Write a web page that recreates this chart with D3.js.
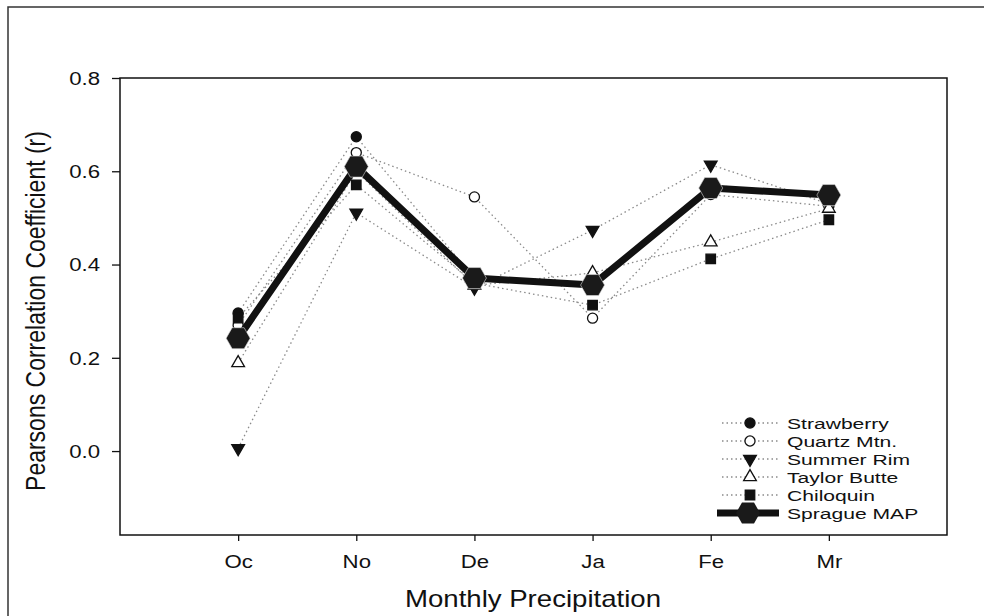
<!DOCTYPE html>
<html><head><meta charset="utf-8">
<script src="https://cdn.jsdelivr.net/npm/d3@7"></script>
<style>
html,body{margin:0;padding:0;background:#fff;}
text{font-family:"Liberation Sans",Arial,sans-serif;fill:#111;}
</style></head>
<body>
<svg id="chart" width="984" height="616"></svg>
<script>
const months = ["Oc","No","De","Ja","Fe","Mr"];
const yTicks = [0.0,0.2,0.4,0.6,0.8];
const strawberry  = [0.296,0.674,0.370,0.360,0.570,0.550];
const quartzMtn   = [0.270,0.640,0.545,0.285,0.550,0.525];
const summerRim   = [0.006,0.511,0.350,0.474,0.614,0.530];
const taylorButte = [0.189,0.600,0.355,0.382,0.448,0.520];
const chiloquin   = [0.285,0.571,0.360,0.313,0.412,0.496];
const spragueMAP  = [0.242,0.610,0.371,0.356,0.564,0.549];
const seriesNames = ["Strawberry","Quartz Mtn.","Summer Rim","Taylor Butte","Chiloquin","Sprague MAP"];

const svg = d3.select("#chart");
const L=120, T=78, R=947, B=535;
const x = d3.scaleLinear().domain([0,7]).range([L,R]);
const y = d3.scaleLinear().domain([-0.18,0.8]).range([B,T]);
const SX = 1.2;

// outer frame
svg.append("rect").attr("x",8).attr("y",7).attr("width",1100).attr("height",800)
  .attr("fill","none").attr("stroke","#333").attr("stroke-width",1.5);

// axes
const ya = svg.append("g").attr("transform",`translate(${L},0)`)
  .call(d3.axisLeft(y).tickValues(yTicks).tickFormat(d3.format(".1f")).tickSize(8));
ya.select(".domain").remove();
ya.selectAll("line").attr("stroke","#111").attr("stroke-width",1.3);
ya.selectAll("text").attr("x",0).attr("dy","0.34em").attr("font-size",18.5)
  .attr("transform",`translate(-20,0) scale(${SX},1)`).attr("fill","#111");

const xa = svg.append("g").attr("transform",`translate(0,${B})`)
  .call(d3.axisBottom(x).tickValues(d3.range(1,7)).tickFormat(d=>months[d-1]).tickSize(6));
xa.select(".domain").remove();
xa.selectAll("line").attr("stroke","#111").attr("stroke-width",1.3);
xa.selectAll("text").attr("y",33).attr("dy",0).attr("font-size",18.5)
  .attr("transform",`scale(${SX},1)`).attr("fill","#111");

// plot frame
svg.append("rect").attr("x",L).attr("y",T).attr("width",R-L).attr("height",B-T)
  .attr("fill","none").attr("stroke","#111").attr("stroke-width",1.5);

// titles
svg.append("text").attr("transform",`translate(533,607) scale(${SX},1)`)
  .attr("text-anchor","middle").attr("font-size",23).text("Monthly Precipitation");
svg.append("text").attr("transform",`translate(45,311) scale(${SX},1) rotate(-90)`)
  .attr("text-anchor","middle").attr("font-size",23).text("Pearsons Correlation Coefficient (r)");

// symbols
const sym = {
  circle: d3.symbol().type(d3.symbolCircle).size(80)(),
  tri: d3.symbol().type(d3.symbolTriangle).size(70)(),
  square: d3.symbol().type(d3.symbolSquare).size(90)()
};
function hexPath(w,h){
  const a=w/2, b=h/2, c=w/4;
  return `M${-a},0L${-c},${-b}L${c},${-b}L${a},0L${c},${b}L${-c},${b}Z`;
}
const styles = [
  {data:strawberry,  d:sym.circle, fill:"#111", stroke:"#111", rot:0},
  {data:quartzMtn,   d:sym.circle, fill:"#fff", stroke:"#111", rot:0},
  {data:summerRim,   d:sym.tri,    fill:"#111", stroke:"#111", rot:180},
  {data:taylorButte, d:sym.tri,    fill:"#fff", stroke:"#111", rot:0},
  {data:chiloquin,   d:sym.square, fill:"#111", stroke:"#111", rot:0}
];
const line = d3.line().x((d,i)=>x(i+1)).y(d=>y(d));

const g = svg.append("g");
styles.forEach(s=>{
  g.append("path").attr("d",line(s.data)).attr("fill","none")
    .attr("stroke","#8a8a8a").attr("stroke-width",1.3).attr("stroke-dasharray","1.5,3");
});
styles.forEach(s=>{
  g.selectAll(null).data(s.data).enter().append("path")
    .attr("d",s.d).attr("fill",s.fill).attr("stroke",s.stroke).attr("stroke-width",1.3)
    .attr("transform",(d,i)=>`translate(${x(i+1)},${y(d)}) rotate(${s.rot})`);
});
g.append("path").attr("d",line(spragueMAP)).attr("fill","none")
  .attr("stroke","#111").attr("stroke-width",7).attr("stroke-linejoin","round");
g.selectAll(null).data(spragueMAP).enter().append("path")
  .attr("d",hexPath(24,21)).attr("fill","#1a1a1a").attr("stroke","#ddd").attr("stroke-width",0.6)
  .attr("transform",(d,i)=>`translate(${x(i+1)},${y(d)})`);

// legend
const lg = svg.append("g");
const ly0=423, lstep=18;
seriesNames.forEach((n,i)=>{
  const yy = ly0 + i*lstep;
  if(i<5){
    const s=styles[i];
    lg.append("line").attr("x1",722).attr("x2",780).attr("y1",yy).attr("y2",yy)
      .attr("stroke","#8a8a8a").attr("stroke-width",1.3).attr("stroke-dasharray","1.5,3");
    lg.append("path").attr("d",s.d).attr("fill",s.fill).attr("stroke",s.stroke).attr("stroke-width",1.3)
      .attr("transform",`translate(750,${yy}) rotate(${s.rot})`);
  } else {
    lg.append("line").attr("x1",717).attr("x2",779).attr("y1",yy).attr("y2",yy)
      .attr("stroke","#111").attr("stroke-width",7);
    lg.append("path").attr("d",hexPath(24,21)).attr("fill","#1a1a1a")
      .attr("transform",`translate(748,${yy})`);
  }
  lg.append("text").attr("transform",`translate(787,${yy+6}) scale(1.36,1)`)
    .attr("font-size",15.5).text(n);
});
</script>
</body></html>
